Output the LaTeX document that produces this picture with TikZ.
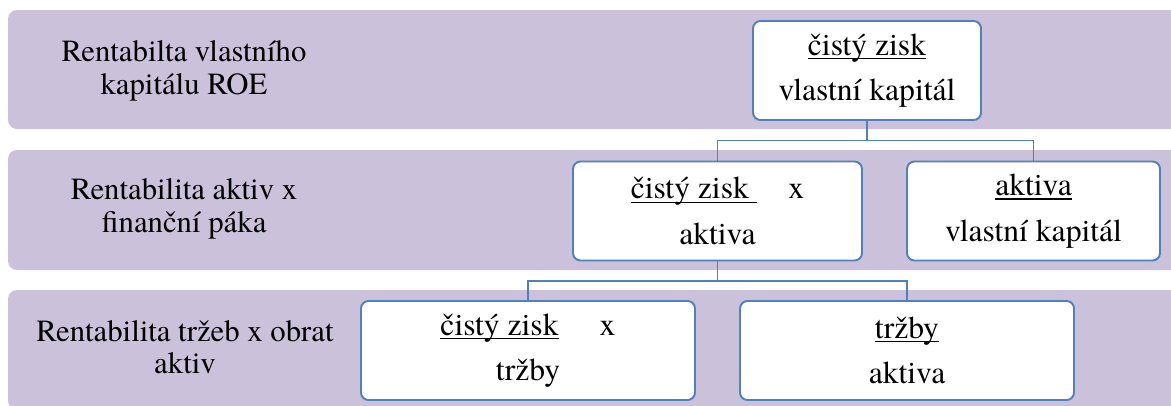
\documentclass[tikz,border=0pt]{standalone}
\usepackage{fontspec}
\IfFontExistsTF{texgyretermes-regular.otf}
  {\setmainfont{texgyretermes-regular.otf}}
  {\setmainfont{Liberation Serif}}
\usepackage{tikz}

\definecolor{bandfill}{RGB}{204,193,218}
\definecolor{boxline}{RGB}{79,129,189}
% underline just below the baseline
\newcommand{\ulword}[1]{\setbox0\hbox{#1}\rlap{\rule[-2.4pt]{\wd0}{0.8pt}}\box0}

\tikzset{
  band/.style={fill=bandfill, rounded corners=0.18cm},
  rowlabel/.style={align=center, inner sep=0pt, font=\rmfamily\fontsize{17.5}{18.5}\selectfont},
  ratio/.style={draw=boxline, line width=1.1pt, fill=white, rounded corners=0.15cm,
    minimum height=1.98cm, inner sep=0pt, align=center, font=\rmfamily\fontsize{18}{26}\selectfont},
  conn/.style={draw=boxline, line width=0.9pt}
}

\begin{document}
\begin{tikzpicture}
  \useasboundingbox (0,0) rectangle (23.42,8.1);
  \clip (0,0) rectangle (23.42,8.1);
  % the three rows
  \fill[band] (0.16,5.52) rectangle (24,7.9);
  \fill[band] (0.16,2.7) rectangle (24,5.1);
  \fill[band] (0.16,-0.1) rectangle (24,2.3);

  \node[rowlabel] (roe) at (3.68,6.68) {Rentabilta vlastního\\kapitálu ROE};
  \node[rowlabel] (roa) at (3.68,3.92) {Rentabilita aktiv x\\finanční páka};
  \node[rowlabel] (ros) at (3.7,1.16) {Rentabilita tržeb x obrat\\aktiv};

  % ratio boxes
  \node[ratio, minimum width=4.56cm] (roebox) at (17.34,6.69) {\ulword{čistý zisk}\\vlastní kapitál};
  \node[ratio, minimum width=5.78cm] (roabox) at (14.35,3.88) {\ulword{čistý zisk\ }\hspace{1em}x\\aktiva};
  \node[ratio, minimum width=5.06cm] (levbox) at (20.67,3.88) {\ulword{aktiva}\\vlastní kapitál};
  \node[ratio, minimum width=6.68cm] (marbox) at (10.56,1.09) {\ulword{čistý zisk}\hspace{1.3em}x\\tržby};
  \node[ratio, minimum width=6.68cm] (turnbox) at (18.14,1.09) {\ulword{tržby}\\aktiva};

  \draw[conn] (roebox.south) -- ++(0,-0.39) -| (roabox.north);
  \draw[conn] (roebox.south) -- ++(0,-0.39) -| (levbox.north);
  \draw[conn] (roabox.south) -- ++(0,-0.39) -| (marbox.north);
  \draw[conn] (roabox.south) -- ++(0,-0.39) -| (turnbox.north);
\end{tikzpicture}
\end{document}
